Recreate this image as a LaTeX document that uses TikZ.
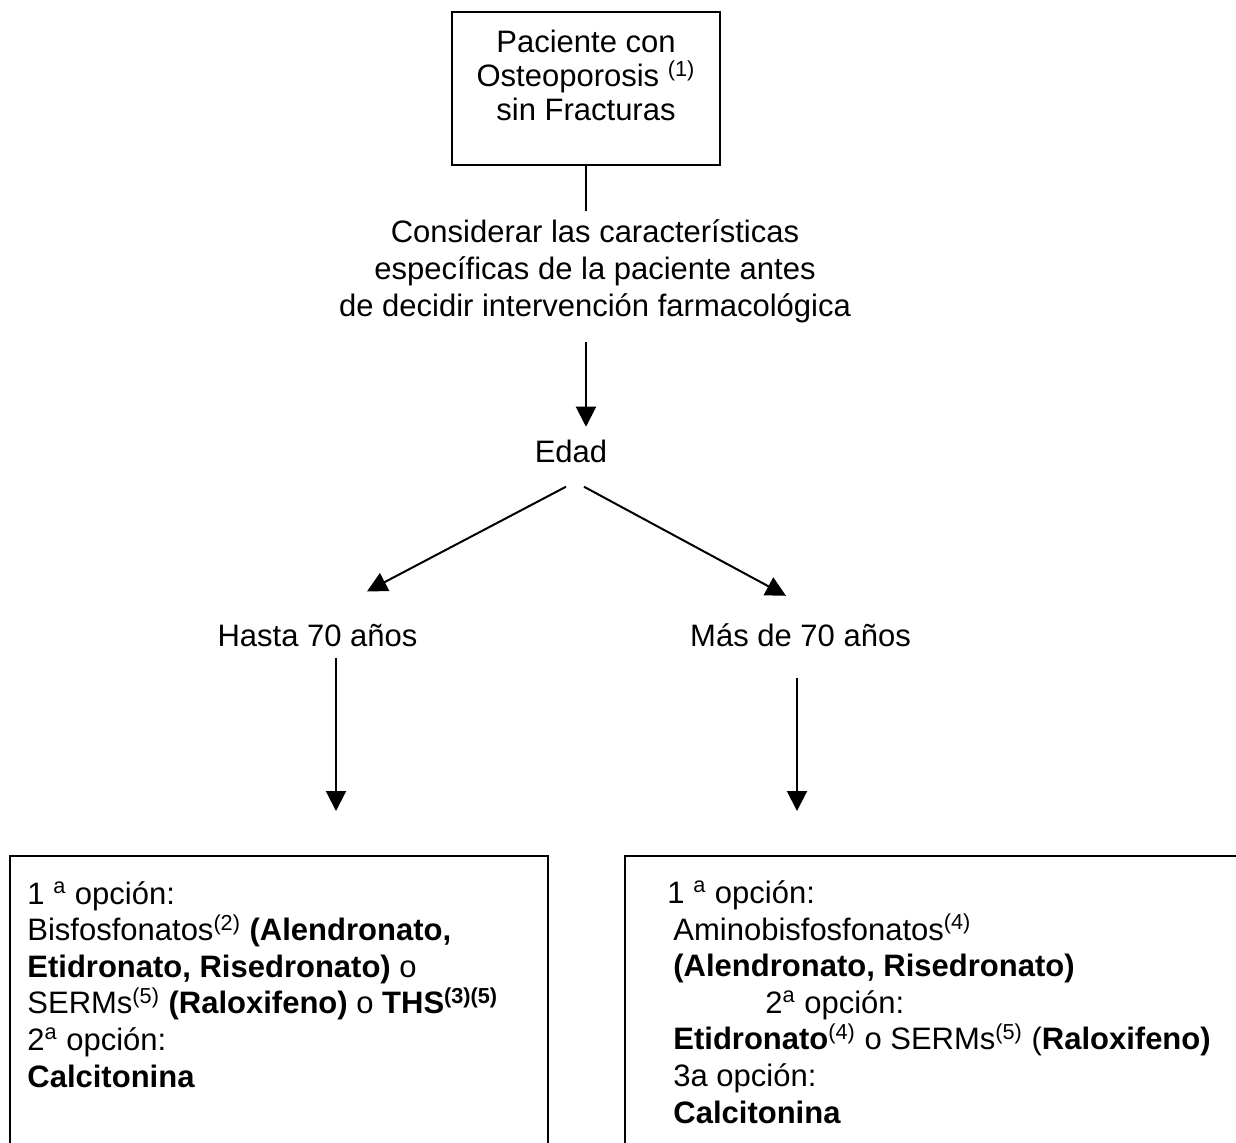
\documentclass[tikz,border=0pt]{standalone}
\usepackage{fontspec}
\setmainfont{Liberation Sans}
\usetikzlibrary{arrows.meta,calc,positioning}

\tikzset{
  caja/.style={draw, line width=1pt, inner sep=0pt},
  texto/.style={inner sep=0pt, font=\fontsize{15.5pt}{17pt}\selectfont},
  flecha/.style={line width=1pt, -{Triangle[length=10pt,width=10pt]}},
}

\begin{document}
\begin{tikzpicture}[x=0.5pt, y=-0.5pt]
  \path[use as bounding box, clip] (0,0) rectangle (1236,1142);

  % cabecera
  \node[caja, texto, align=center, minimum width=134pt, minimum height=76.5pt] (paciente) at (586,88.5)
    {Paciente con\\Osteoporosis \textsuperscript{(1)}\\sin Fracturas\\[-4pt]};

  \node[texto, align=center, font=\fontsize{15.5pt}{18.5pt}\selectfont, anchor=base] (considerar) at (595,316)
    {Considerar las características\\específicas de la paciente antes\\de decidir intervención farmacológica};

  \node[texto, anchor=base] (edad) at (571,462) {Edad};
  \node[texto, anchor=base] (hasta) at (317.5,646) {Hasta 70 años};
  \node[texto, anchor=base] (mas) at (800.5,646) {Más de 70 años};

  % cajas de tratamiento
  \node[caja, anchor=north west, minimum width=269pt, minimum height=200pt] (izq) at (9,855) {};
  \node[caja, anchor=north west, minimum width=350pt, minimum height=200pt] (der) at (624,855) {};

  \node[texto, anchor=base west, align=left, font=\fontsize{15.5pt}{18.3pt}\selectfont] (opcizq) at (27,1087)
    {1 \textsuperscript{a} opción:\\
     Bisfosfonatos\textsuperscript{(2)} \textbf{(Alendronato,}\\
     \textbf{Etidronato, Risedronato)} o\\
     SERMs\textsuperscript{(5)} \textbf{(Raloxifeno)} o \textbf{THS\textsuperscript{(3)(5)}}\\
     2\textsuperscript{a} opción:\\
     \textbf{Calcitonina}};

  \node[texto, anchor=base west, align=left, font=\fontsize{15.5pt}{18.3pt}\selectfont] (opcder) at (667,1123)
    {1 \textsuperscript{a} opción:\\
     \hspace*{3pt}Aminobisfosfonatos\textsuperscript{(4)}\\
     \hspace*{3pt}\textbf{(Alendronato, Risedronato)}\\
     \hspace*{49pt}2\textsuperscript{a} opción:\\
     \hspace*{3pt}\textbf{Etidronato}\textsuperscript{(4)} o SERMs\textsuperscript{(5)} (\textbf{Raloxifeno)}\\
     \hspace*{3pt}3a opción:\\
     \hspace*{3pt}\textbf{Calcitonina}};

  % conectores
  \draw[line width=1pt, shorten >=4pt] (paciente.south) -- (paciente.south |- considerar.north);
  \draw[flecha, shorten <=9.75pt, shorten >=6.2pt] (considerar.south -| paciente.south) -- (edad.north -| paciente.south);

  \draw[flecha] ($(edad.south)+(-5,24)$) -- ($(hasta.north)+(49.5,-32)$);
  \draw[flecha] ($(edad.south)+(13,24)$) -- ($(mas.north)+(-14.5,-27)$);

  \draw[flecha, shorten <=5.5pt, shorten >=22pt] (hasta.south -| 336,0) -- (izq.north -| 336,0);
  \draw[flecha, shorten <=15.5pt, shorten >=22pt] (mas.south -| 797,0) -- (der.north -| 797,0);
\end{tikzpicture}
\end{document}
